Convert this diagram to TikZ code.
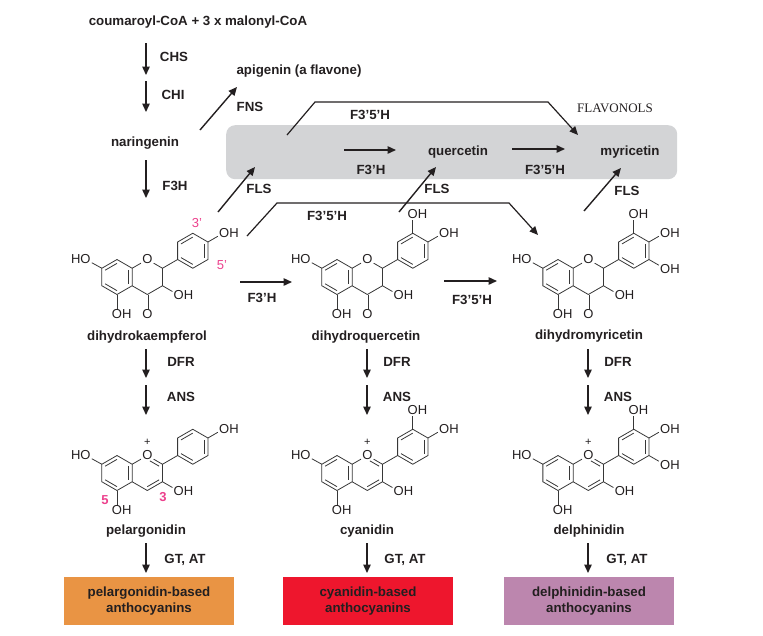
\documentclass[tikz,border=0pt]{standalone}
\usepackage{fontspec}
\setmainfont{Liberation Sans}
\newfontfamily\serifrm{Liberation Serif}
\usetikzlibrary{arrows.meta,calc}
\definecolor{ink}{RGB}{35,31,32}
\definecolor{boxgray}{RGB}{211,212,214}
\definecolor{pinkish}{RGB}{236,64,140}
\definecolor{orangebox}{RGB}{233,148,68}
\definecolor{redbox}{RGB}{238,22,45}
\definecolor{purplebox}{RGB}{188,134,174}
\definecolor{bondc}{RGB}{55,55,55}
\newcommand\inbond[3]{\draw[bond] ($(#1)!0.22!(#3)$) -- ($(#2)!0.22!(#3)$);}
\newcommand\molecule[5]{%
\begin{scope}[shift={(#1,#2)}]
 \coordinate (#3ZA) at (0,0);
 \coordinate (#3ZC) at (30.31,0);
 \coordinate (#3ZB) at (75.775,-26.25);
 \coordinate (#3A8) at (0,-17.5);
 \coordinate (#3A7) at (-15.155,-8.75);
 \coordinate (#3A6) at (-15.155,8.75);
 \coordinate (#3A5) at (0,17.5);
 \coordinate (#3A4a) at (15.155,8.75);
 \coordinate (#3A8a) at (15.155,-8.75);
 \coordinate (#3C2) at (45.465,-8.75);
 \coordinate (#3C3) at (45.465,8.75);
 \coordinate (#3C4) at (30.31,17.5);
 \coordinate (#3B1) at (60.62,-17.5);
 \coordinate (#3B2) at (60.62,-35);
 \coordinate (#3B3) at (75.775,-43.75);
 \coordinate (#3B4) at (90.93,-35);
 \coordinate (#3B5) at (90.93,-17.5);
 \coordinate (#3B6) at (75.775,-8.75);
 \node[atom] (#3O1) at (30.31,-17.5) {O};
 \node[atom] (#3O7) at (-31.5,-17.75) {\llap{H}O};
 \node[atom] (#3O5) at (0,37.5) {O\rlap{H}};
 \node[atom] (#3O3) at (61.8,18.2) {O\rlap{H}};
 \node[atom] (#3O4p) at (107.2,-44.4) {O\rlap{H}};
 % ring A
 \draw[bond] (#3A8) -- (#3A7) -- (#3A6) -- (#3A5) -- (#3A4a) -- (#3A8a) -- cycle;
 \inbond{#3A8}{#3A7}{#3ZA}
 \inbond{#3A6}{#3A5}{#3ZA}
 \inbond{#3A4a}{#3A8a}{#3ZA}
 % ring C
 \draw[bond] (#3A8a) -- (#3O1) -- (#3C2) -- (#3C3) -- (#3C4) -- (#3A4a);
 % ring B
 \draw[bond] (#3B1) -- (#3B2) -- (#3B3) -- (#3B4) -- (#3B5) -- (#3B6) -- cycle;
 \inbond{#3B2}{#3B3}{#3ZB}
 \inbond{#3B1}{#3B6}{#3ZB}
 \inbond{#3B4}{#3B5}{#3ZB}
 \draw[bond] (#3C2) -- (#3B1);
 % substituents
 \draw[bond] (#3A7) -- (#3O7);
 \draw[bond] (#3A5) -- (#3O5);
 \draw[bond] (#3C3) -- (#3O3);
 \draw[bond] (#3B4) -- (#3O4p);
 \ifnum#4=0
   \node[atom] (#3O4) at (30.31,37.5) {O};
   \draw[bond,double=white,double distance=1.8pt] (#3C4) -- (#3O4);
 \else
   \node[atom,font=\fontsize{11}{12}\selectfont] (#3plus) at (30.31,-31) {+};
   \draw[bond,shorten <=3pt] ($(#3O1)!0.22!(#3ZC)$) -- ($(#3C2)!0.22!(#3ZC)$);
   \inbond{#3C3}{#3C4}{#3ZC}
 \fi
 \ifnum#5>1
   \node[atom] (#3O3p) at (75.775,-62.5) {O\rlap{H}};
   \draw[bond] (#3B3) -- (#3O3p);
 \fi
 \ifnum#5>2
   \node[atom] (#3O5p) at (107.2,-8.1) {O\rlap{H}};
   \draw[bond] (#3B5) -- (#3O5p);
 \fi
\end{scope}}
\begin{document}
\begin{tikzpicture}[x=1pt,y=-1pt,
  lbl/.style={font=\fontsize{13.3}{16.5}\selectfont\bfseries, text=ink, inner sep=0pt},
  atom/.style={font=\fontsize{13}{15}\selectfont, text=ink, inner sep=1.1pt},
  pnk/.style={font=\fontsize{13}{15}\selectfont, text=pinkish, inner sep=0pt},
  bond/.style={draw=bondc, line width=0.8pt},
  arr/.style={draw=ink, line width=1.4pt, -{Triangle[length=8.5pt,width=7.5pt]}},
  pline/.style={draw=ink, line width=1.2pt, -{Triangle[length=8.5pt,width=7.5pt]}},
  prodbox/.style={lbl, minimum width=170pt, minimum height=48pt, align=center}]
\useasboundingbox (0,0) rectangle (763,635);
% flavonol box
\node[fill=boxgray, rounded corners=9pt, minimum width=451pt, minimum height=54pt, anchor=north west, inner sep=0pt] (flav) at (226,125) {};
% main texts
\node[lbl] (coum) at (198,22) {coumaroyl-CoA + 3 x malonyl-CoA};
\node[lbl] (nar) at (145,143) {naringenin};
\node[lbl] (api) at (299,71) {apigenin (a flavone)};
\node[lbl] (quer) at (458,152) {quercetin};
\node[lbl] (myr) at (630,152) {myricetin};
\node[font=\serifrm\fontsize{13}{15}\selectfont, text=ink, inner sep=0pt] (flavlbl) at (615,108) {FLAVONOLS};
% molecules
\molecule{117}{277}{dk}{0}{1}
\molecule{337}{277}{dq}{0}{2}
\molecule{558}{277}{dm}{0}{3}
\molecule{117}{473}{pg}{1}{1}
\molecule{337}{473}{cy}{1}{2}
\molecule{558}{473}{dp}{1}{3}
\node[pnk] (p3) at (197,223) {3’};
\node[pnk] (p5) at (222,265) {5’};
\node[pnk,font=\fontsize{13}{15}\selectfont\bfseries] (q5) at (105,500) {5};
\node[pnk,font=\fontsize{13}{15}\selectfont\bfseries] (q3) at (163,497) {3};
\node[lbl] (ndk) at (147,337) {dihydrokaempferol};
\node[lbl] (ndq) at (366,337) {dihydroquercetin};
\node[lbl] (ndm) at (589,336) {dihydromyricetin};
\node[lbl] (npg) at (146,531) {pelargonidin};
\node[lbl] (ncy) at (367,531) {cyanidin};
\node[lbl] (ndp) at (589,531) {delphinidin};
% product boxes
\node[prodbox, fill=orangebox] (bpg) at (149,601) {pelargonidin-based\\anthocyanins};
\node[prodbox, fill=redbox] (bcy) at (368,601) {cyanidin-based\\anthocyanins};
\node[prodbox, fill=purplebox] (bdp) at (589,601) {delphinidin-based\\anthocyanins};
% enzyme labels
\node[lbl] (eCHS) at (174,57) {CHS};
\node[lbl] (eCHI) at (173,95) {CHI};
\node[lbl] (eFNS) at (250,107) {FNS};
\node[lbl] (eF3H) at (175,186) {F3H};
\node[lbl] (eT1) at (370,115) {F3’5’H};
\node[lbl] (eT2) at (371,170) {F3’H};
\node[lbl] (eT3) at (545,170) {F3’5’H};
\node[lbl] (eFLS1) at (259,189) {FLS};
\node[lbl] (eFLS2) at (437,189) {FLS};
\node[lbl] (eFLS3) at (627,191) {FLS};
\node[lbl] (eL1) at (327,216) {F3’5’H};
\node[lbl] (eM1) at (262,298) {F3’H};
\node[lbl] (eM2) at (472,300) {F3’5’H};
\foreach \n/\x in {1/181,2/397,3/618}{
  \node[lbl] (eDFR\n) at (\x,362) {DFR};
  \node[lbl] (eANS\n) at (\x,397) {ANS};
}
\foreach \n/\x in {1/185,2/405,3/627}{
  \node[lbl] (eGT\n) at (\x,560) {GT, AT};
}
% connector end points
\coordinate (s1) at (146,43); \coordinate (e1) at (146,75);
\coordinate (s2) at (146,81); \coordinate (e2) at (146,112);
\coordinate (s3) at (200,130); \coordinate (e3) at (237,87);
\coordinate (s4) at (146,160); \coordinate (e4) at (146,198);
\coordinate (t1) at (287,135); \coordinate (t2) at (315,102); \coordinate (t3) at (548,102); \coordinate (t4) at (578,135);
\coordinate (s6) at (344,150); \coordinate (e6) at (396,150);
\coordinate (s7) at (512,149); \coordinate (e7) at (565,149);
\coordinate (s8) at (218,212); \coordinate (e8) at (255,167);
\coordinate (s9) at (399,212); \coordinate (e9) at (436,167);
\coordinate (s10) at (584,211); \coordinate (e10) at (621,168);
\coordinate (u1) at (247,236); \coordinate (u2) at (277,203); \coordinate (u3) at (509,203); \coordinate (u4) at (538,235);
\coordinate (s12) at (240,282); \coordinate (e12) at (292,282);
\coordinate (s13) at (444,281); \coordinate (e13) at (497,281);
\draw[arr] (s1) -- (e1);
\draw[arr] (s2) -- (e2);
\draw[arr] (s3) -- (e3);
\draw[arr] (s4) -- (e4);
\draw[pline] (t1) -- (t2) -- (t3) -- (t4);
\draw[arr] (s6) -- (e6);
\draw[arr] (s7) -- (e7);
\draw[arr] (s8) -- (e8);
\draw[arr] (s9) -- (e9);
\draw[arr] (s10) -- (e10);
\draw[pline] (u1) -- (u2) -- (u3) -- (u4);
\draw[arr] (s12) -- (e12);
\draw[arr] (s13) -- (e13);
\foreach \n/\x in {1/146,2/367,3/588}{
  \coordinate (d\n s) at (\x,349); \coordinate (d\n e) at (\x,378);
  \coordinate (a\n s) at (\x,385); \coordinate (a\n e) at (\x,415);
  \coordinate (g\n s) at (\x,543); \coordinate (g\n e) at (\x,573);
  \draw[arr] (d\n s) -- (d\n e);
  \draw[arr] (a\n s) -- (a\n e);
  \draw[arr] (g\n s) -- (g\n e);
}
\end{tikzpicture}
\end{document}
